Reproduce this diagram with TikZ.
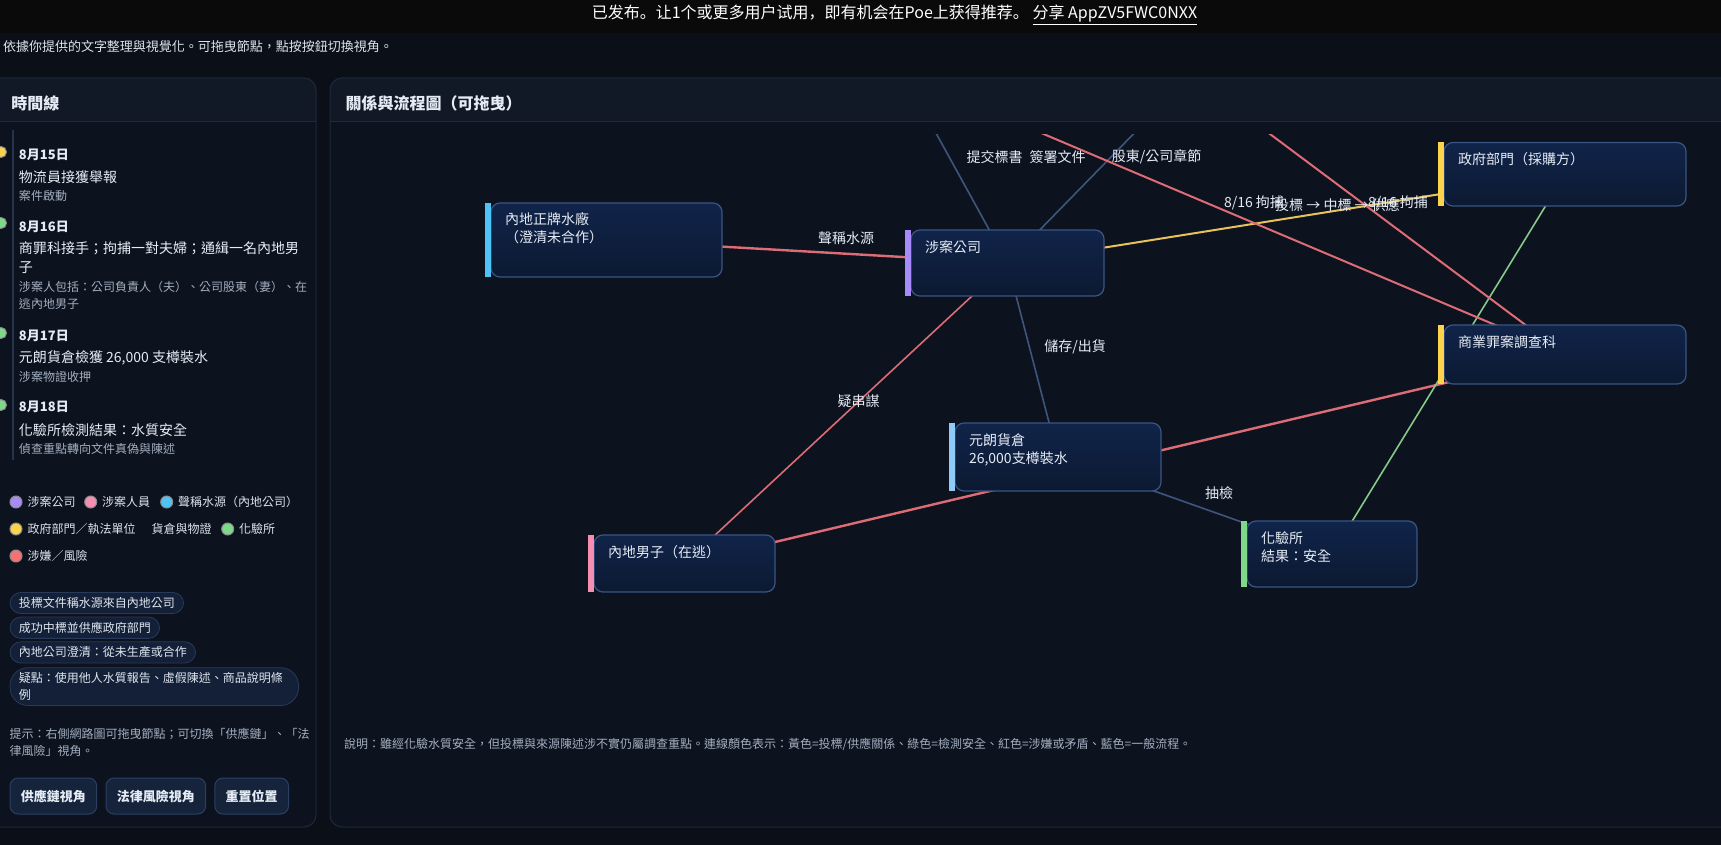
\documentclass[tikz,border=0pt]{standalone}
\usepackage{fontspec}
\setmainfont{Noto Sans CJK TC}
\newfontfamily\simpfont{Noto Sans CJK SC}
\usetikzlibrary{positioning}

\definecolor{pagebg}{HTML}{0A0F18}
\definecolor{topbar}{HTML}{0A0A0B}
\definecolor{panelbg}{HTML}{0C131E}
\definecolor{panelhead}{HTML}{111926}
\definecolor{panelline}{HTML}{1E293A}
\definecolor{tline}{HTML}{24344D}
\definecolor{cardtop}{HTML}{10244A}
\definecolor{cardbot}{HTML}{0C1931}
\definecolor{cardline}{HTML}{3A5585}
\definecolor{ink}{HTML}{E6ECF5}
\definecolor{mute}{HTML}{A3AEBF}
\definecolor{acsky}{HTML}{4FC3F7}
\definecolor{acpurple}{HTML}{A78BFA}
\definecolor{acyellow}{HTML}{FCD34D}
\definecolor{acice}{HTML}{90CAF9}
\definecolor{acpink}{HTML}{F48FB1}
\definecolor{acgreen}{HTML}{7FD88A}
\definecolor{acred}{HTML}{F87171}
\definecolor{wred}{HTML}{DD6C76}
\definecolor{wyellow}{HTML}{E9C25C}
\definecolor{wgreen}{HTML}{86C98A}
\definecolor{wblue}{HTML}{3F557E}
\definecolor{pillfill}{HTML}{132038}
\definecolor{pillline}{HTML}{29395A}
\definecolor{btnfill}{HTML}{15233B}
\definecolor{btnline}{HTML}{2C3F62}

\newcommand{\px}[2]{\fontsize{#1}{#2}\selectfont}

\pgfdeclarelayer{base}
\pgfdeclarelayer{wires}
\pgfsetlayers{base,wires,main}

\tikzset{
  txt/.style={anchor=west, inner sep=0pt, outer sep=0pt, text=ink, font=\px{14}{18}},
  subtxt/.style={txt, text=mute, font=\px{12}{16}},
  lgtext/.style={txt, text=ink!85!mute, font=\px{12}{15}},
  elabel/.style={txt, anchor=center},
  ldot/.style={circle, fill=#1, draw=black!45, line width=1pt, minimum size=12pt, inner sep=0pt},
  card/.style={draw=cardline, line width=1.2pt, rounded corners=9pt, top color=cardtop,
    bottom color=cardbot, anchor=north west, align=left, inner xsep=14pt, inner ysep=0pt,
    outer sep=0pt, text height=22pt, text=ink, font=\px{14}{18}},
  pill/.style={draw=pillline, fill=pillfill, rounded corners=11pt, line width=0.8pt,
    inner xsep=8.8pt, inner ysep=5pt, anchor=west, text=ink!90!mute, font=\px{12}{16.7}},
  btn/.style={draw=btnline, fill=btnfill, rounded corners=8pt, line width=1pt,
    inner xsep=10.8pt, minimum height=36pt, anchor=west, text=ink, font=\bfseries\px{13}{16}},
  risk/.style={draw=wred, line width=2pt},
  tender/.style={draw=wyellow, line width=2pt},
  safe/.style={draw=wgreen, line width=1.6pt},
  flow/.style={draw=wblue, line width=1.6pt},
}

\begin{document}
\begin{tikzpicture}[x=1pt, y=-1pt]
  \useasboundingbox (0,0) rectangle (1721,845);
  \begin{pgfonlayer}{base}
    \fill[pagebg] (0,0) rectangle (1721,845);
    \fill[topbar] (0,0) rectangle (1721,33);
    \foreach \a/\b in {-20/316, 330/1760} {
      \begin{scope}
        \clip[rounded corners=12pt] (\a,78) rectangle (\b,827);
        \fill[panelbg] (\a,78) rectangle (\b,827);
        \fill[panelhead] (\a,78) rectangle (\b,122);
      \end{scope}
      \draw[panelline, line width=1pt, rounded corners=12pt] (\a,78) rectangle (\b,827);
      \draw[panelline, line width=1pt] (\a,122) -- (\b,122);
    }
    \draw[tline, line width=1.5pt] (13,130) -- (13,460);
  \end{pgfonlayer}

  % top bar and intro
  \node[txt, anchor=center, text=white, font=\simpfont\px{16}{20}] (bar) at (894.5,15)
    {已发布。让1个或更多用户试用，即有机会在Poe上获得推荐。 \underline{分享 AppZV5FWC0NXX}};
  \node[txt, text=ink!85!mute, font=\px{13}{16}] (intro) at (3,46.7)
    {依據你提供的文字整理與視覺化。可拖曳節點，點按按鈕切換視角。};

  % left panel: timeline
  \node[txt, font=\bfseries\px{16}{20}] (tlhead) at (11.5,103) {時間線};
  \foreach \y/\c [count=\i] in {152/acyellow, 223/acgreen, 333/acgreen, 405/acgreen}
    \node[ldot=\c, minimum size=11pt] (td\i) at (1,\y) {};
  \foreach \y/\t [count=\i] in {155/8月15日, 227/8月16日, 336/8月17日, 407/8月18日}
    \node[txt, font=\bfseries\px{13}{16}] (dt\i) at (19,\y) {\t};
  \foreach \y/\t [count=\i] in {177/物流員接獲舉報, 248/商罪科接手；拘捕一對夫婦；通緝一名內地男,
      268/子, 358/{元朗貨倉檢獲 26,000 支樽裝水}, 430/化驗所檢測結果：水質安全}
    \node[txt] (ti\i) at (19,\y) {\t};
  \foreach \y/\t [count=\i] in {196/案件啟動, 287/涉案人包括：公司負責人（夫）、公司股東（妻）、在,
      304/逃內地男子, 377/涉案物證收押, 449/偵查重點轉向文件真偽與陳述}
    \node[subtxt] (ts\i) at (19,\y) {\t};

  % legend
  \node[ldot=acpurple] (lg1) at (16,502) {};
  \node[lgtext, right=5pt of lg1] (lt1) {涉案公司};
  \node[ldot=acpink] (lg2) at (90.7,502) {};
  \node[lgtext, right=5pt of lg2] (lt2) {涉案人員};
  \node[ldot=acsky] (lg3) at (166.7,502) {};
  \node[lgtext, right=5pt of lg3] (lt3) {聲稱水源（內地公司）};
  \node[ldot=acyellow] (lg4) at (16,529) {};
  \node[lgtext, right=5pt of lg4] (lt4) {政府部門／執法單位};
  \node[lgtext] (lt5) at (151.7,529) {貨倉與物證};
  \node[ldot=acgreen] (lg6) at (227.7,529) {};
  \node[lgtext, right=5pt of lg6] (lt6) {化驗所};
  \node[ldot=acred] (lg7) at (16,556) {};
  \node[lgtext, right=5pt of lg7] (lt7) {涉嫌／風險};

  % tags
  \node[pill] (tg1) at (9.6,603) {投標文件稱水源來自內地公司};
  \node[pill] (tg2) at (9.6,627.7) {成功中標並供應政府部門};
  \node[pill] (tg3) at (9.6,652.4) {內地公司澄清：從未生產或合作};
  \node[pill, rounded corners=18pt, text width=271pt, align=left] (tg4) at (9.6,686.6)
    {疑點：使用他人水質報告、虛假陳述、商品說明條\\例};

  \node[subtxt] (hint1) at (9.6,734) {提示：右側網路圖可拖曳節點；可切換「供應鏈」、「法};
  \node[subtxt] (hint2) at (9.6,750.7) {律風險」視角。};

  \node[btn] (b1) at (9.6,796) {供應鏈視角};
  \node[btn, right=8.3pt of b1] (b2) {法律風險視角};
  \node[btn, right=8.3pt of b2] (b3) {重置位置};

  % right panel
  \node[txt, font=\bfseries\px{16}{20}] (grhead) at (345.6,103) {關係與流程圖（可拖曳）};
  \node[subtxt] (note) at (344,744)
    {說明：雖經化驗水質安全，但投標與來源陳述涉不實仍屬調查重點。連線顏色表示：黃色=投標/供應關係、綠色=檢測安全、紅色=涉嫌或矛盾、藍色=一般流程。};

  \node[card, text width=203pt, text depth=52pt] (fac) at (491,203) {內地正牌水廠\\（澄清未合作）};
  \node[card, text width=165pt, text depth=44pt] (co) at (911,230) {涉案公司};
  \node[card, text width=214pt, text depth=41.5pt] (gov) at (1444,142.5) {政府部門（採購方）};
  \node[card, text width=214pt, text depth=37pt] (ccb) at (1444,325) {商業罪案調查科};
  \node[card, text width=178pt, text depth=46pt] (wh) at (955,423) {元朗貨倉\\26,000支樽裝水};
  \node[card, text width=153pt, text depth=35pt] (man) at (594,535) {內地男子（在逃）};
  \node[card, text width=142pt, text depth=44pt] (lab) at (1247,521) {化驗所\\結果：安全};
  \foreach \n/\c in {fac/acsky, co/acpurple, gov/acyellow, ccb/acyellow, wh/acice, man/acpink, lab/acgreen}
    \fill[\c] ([xshift=-6pt]\n.north west) rectangle (\n.south west);

  % people above the visible area
  \coordinate (boss) at (904,75);
  \coordinate (holder) at (1191,75);

  \begin{pgfonlayer}{wires}
    \begin{scope}
      \clip (331,135) rectangle (1721,826);
      \draw[risk, line width=2.4pt] (fac.center) -- (co.center);
      \draw[tender] (co.center) -- (gov.center);
      \draw[flow] (co.center) -- (wh.center);
      \draw[risk, line width=1.6pt] (co.center) -- (man.center);
      \draw[risk, line width=2.4pt] (man.center) -- (ccb.center);
      \draw[flow] (wh.center) -- (lab.center);
      \draw[safe] (gov.center) -- (lab.center);
      \draw[flow] (boss) -- (co.center);
      \draw[flow] (holder) -- (co.center);
      \draw[risk] (boss) -- (ccb.center);
      \draw[risk] (holder) -- (ccb.center);
    \end{scope}
  \end{pgfonlayer}

  % connector labels
  \node[elabel] (lsrc) at (846,238) {聲稱水源};
  \node[elabel] (lsupply) at (1337.5,205) {投標 → 中標 → 供應};
  \node[elabel] (lstore) at (1075,347) {儲存/出貨};
  \node[elabel] (lplot) at (858.5,401.7) {疑串謀};
  \node[elabel] (lsample) at (1219,493) {抽檢};
  \node[elabel] (ltender) at (994.5,157) {提交標書};
  \node[elabel] (lsign) at (1057.5,157) {簽署文件};
  \node[elabel] (lshare) at (1156.5,157) {股東/公司章節};
  \node[elabel] (larrest1) at (1254,203) {8/16 拘捕};
  \node[elabel] (larrest2) at (1398,203) {8/16 拘捕};
\end{tikzpicture}
\end{document}
